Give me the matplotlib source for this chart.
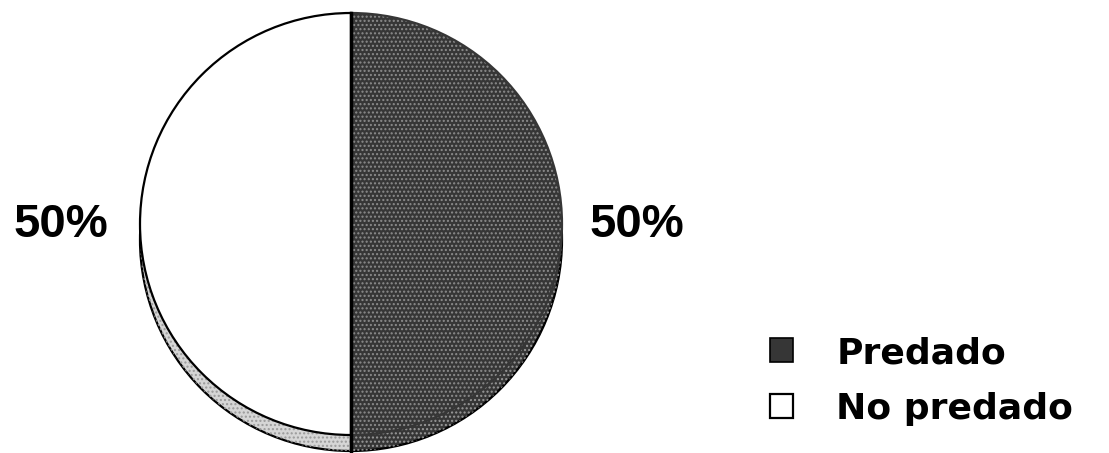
import matplotlib
matplotlib.use("Agg")
import matplotlib.pyplot as plt

# slice data
labels = ["Predado", "No predado"]
values = [50, 50]
pct_labels = ["50%", "50%"]

face_colors = ["#363636", "white"]
side_colors = ["#363636", "#d6d6d6"]

plt.rcParams["font.family"] = ["Liberation Sans", "DejaVu Sans"]

fig = plt.figure(figsize=(11.09, 4.53), dpi=100)
ax = fig.add_axes([0, 0, 1, 1])

cx, cy, r = 351, 229, 211
depth = 16

# 3D side of the pie, shifted down under the top face
ax.pie(values, colors=side_colors, startangle=90, counterclock=False,
       center=(cx, cy - depth), radius=r, frame=True,
       wedgeprops=dict(edgecolor="black", linewidth=1.6))
ax.pie(values, colors=["none", "none"], startangle=90, counterclock=False,
       center=(cx, cy - depth), radius=r, frame=True,
       wedgeprops=dict(edgecolor="#9a9a9a", linewidth=0, hatch="...."))

# top face
face, _ = ax.pie(values, colors=face_colors, startangle=90, counterclock=False,
                 center=(cx, cy), radius=r, frame=True,
                 wedgeprops=dict(edgecolor="black", linewidth=1.6))
face[0].set_edgecolor(face_colors[0])
ax.pie([values[0] / 100], colors=["none"], startangle=90, counterclock=False,
       center=(cx, cy), radius=r * 0.995, frame=True, normalize=False,
       wedgeprops=dict(edgecolor="#8c8c8c", linewidth=0, hatch="...."))
# dividing line between the two halves
ax.plot([cx, cx], [cy - r - depth, cy + r], color="black", lw=2.5)

ax.set_xlim(0, 1109)
ax.set_ylim(0, 453)
ax.set_aspect("equal")
ax.axis("off")

# percentage labels on both sides
ax.text(637, 453 - 225, pct_labels[0], ha="center", va="center",
        fontsize=34, fontweight="bold")
ax.text(61, 453 - 225, pct_labels[1], ha="center", va="center",
        fontsize=34, fontweight="bold")

leg = ax.legend(face, labels, loc="upper left", bbox_to_anchor=(770, 453 - 336),
                bbox_transform=ax.transData, frameon=False,
                prop=dict(family="DejaVu Sans", weight="bold", size=26),
                handlelength=0.64, handleheight=0.64, handletextpad=1.2,
                labelspacing=0.6, borderpad=0, borderaxespad=0)
leg.legend_handles[0].set_edgecolor("black")
leg.legend_handles[0].set_linewidth(1.2)
leg.legend_handles[1].set_linewidth(1.6)

fig.savefig("out.png", dpi=100)
